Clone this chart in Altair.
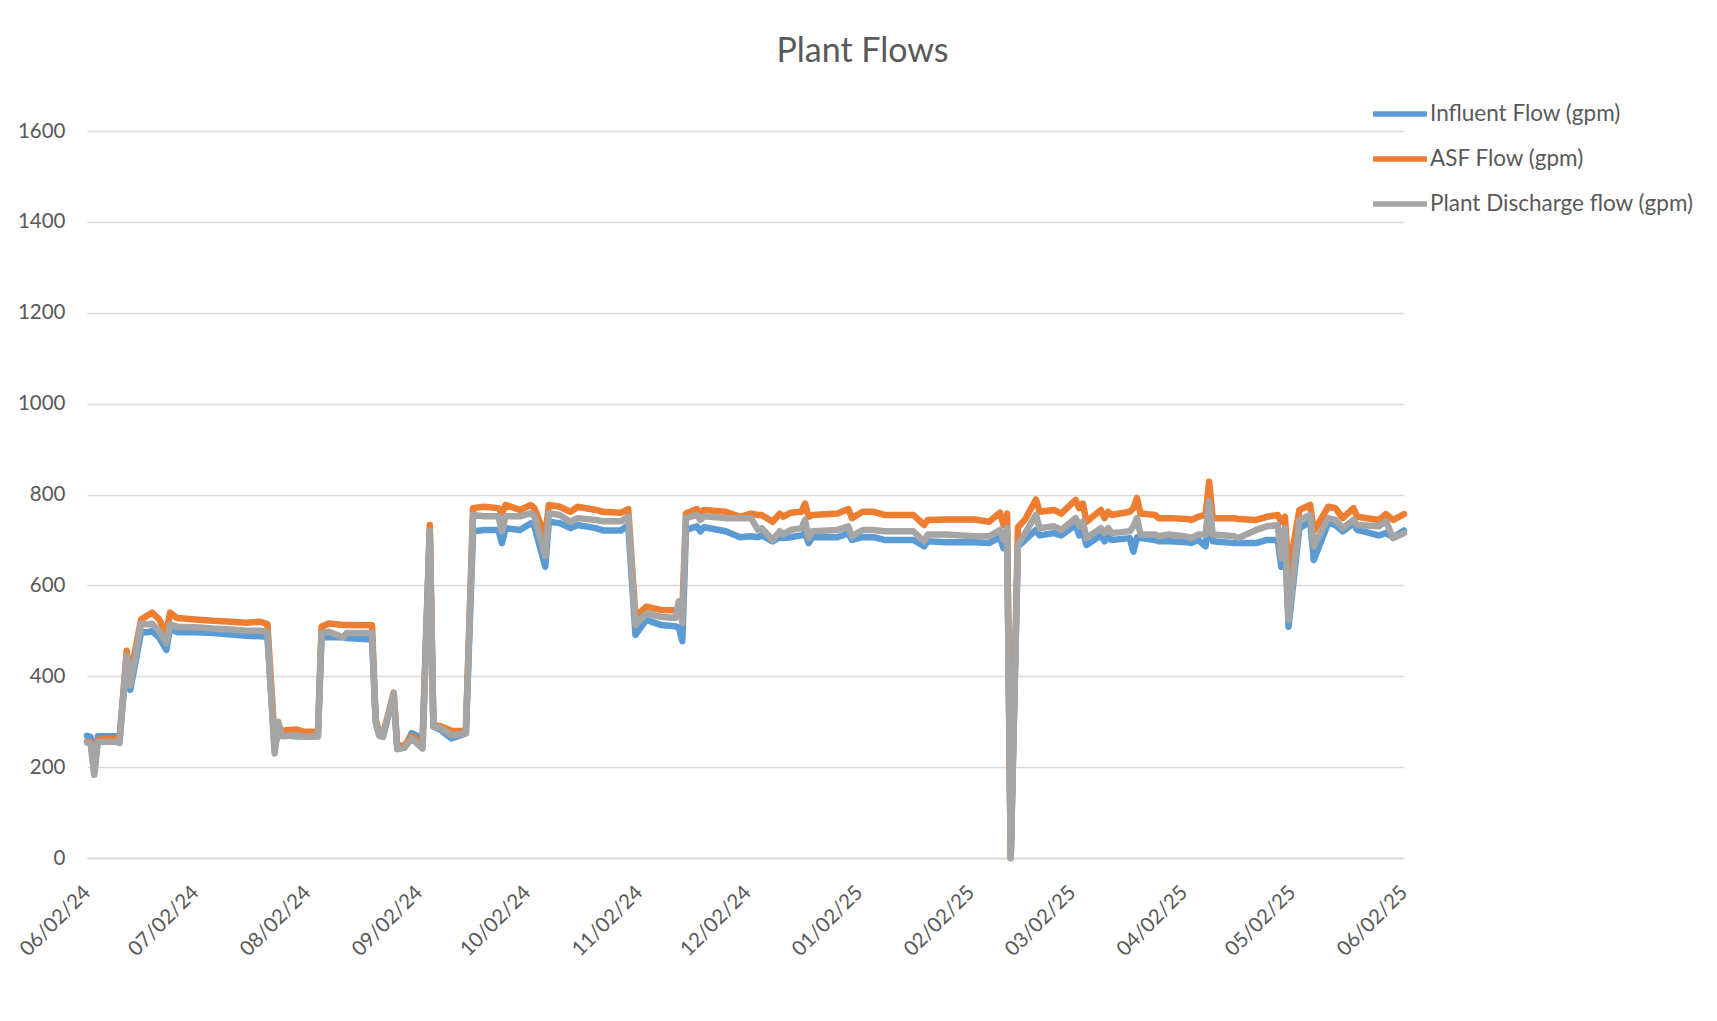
import altair as alt
import pandas as pd

# ---------------- data ----------------
start_date = "2024-06-02"
day_offsets = [0, 1, 2, 3, 5, 8, 9, 11, 12, 15, 17, 18, 20, 22, 23, 25, 30, 35, 40, 44,
               48, 50, 52, 53, 54, 58, 60, 64, 65, 67, 71, 72, 79, 80, 81, 82, 85, 86, 88, 90,
               93, 95, 96, 98, 101, 105, 107, 110, 114, 115, 116, 120, 123, 124, 127, 128, 131, 134, 136, 141,
               143, 148, 150, 152, 155, 159, 163, 164, 165, 166, 169, 170, 171, 177, 181, 184, 186, 187, 190, 192,
               193, 195, 198, 199, 200, 201, 208, 211, 212, 215, 218, 221, 229, 232, 233, 238, 246, 250, 253, 254,
               255, 256, 258, 260, 263, 264, 268, 270, 274, 275, 276, 277, 281, 282, 283, 284, 289, 290, 291, 292,
               296, 297, 300, 305, 306, 308, 310, 311, 312, 318, 319, 324, 327, 330, 331, 332, 333, 336, 339, 340,
               344, 346, 348, 351, 352, 358, 360, 362, 365]

influent = [269, 266, 190, 268, 268, 268, 262, 440, 370, 497, 497, 500, 485, 458, 505, 497, 497, 495, 492, 489,
            488, 487, 240, 280, 270, 268, 268, 268, 486, 486, 486, 484, 481, 300, 270, 267, 358, 240, 243, 275,
            263, 715, 289, 282, 263, 274, 719, 722, 722, 693, 726, 722, 737, 730, 641, 740, 737, 726, 733, 726,
            721, 721, 733, 491, 524, 513, 510, 507, 477, 722, 730, 719, 728, 719, 706, 708, 706, 710, 697, 706,
            704, 706, 710, 715, 693, 706, 706, 715, 700, 706, 706, 700, 700, 686, 697, 695, 695, 693, 706, 682,
            715, 0, 686, 700, 722, 710, 715, 710, 733, 710, 720, 689, 710, 697, 706, 700, 704, 674, 706, 704,
            700, 697, 697, 695, 693, 700, 686, 760, 697, 693, 693, 693, 700, 700, 641, 700, 509, 726, 740, 656,
            737, 733, 719, 737, 722, 710, 715, 706, 721]

asf = [256, 255, 200, 260, 262, 262, 258, 456, 400, 525, 535, 540, 525, 495, 540, 528, 525, 522, 520, 518,
       520, 515, 260, 290, 280, 283, 278, 278, 509, 516, 513, 513, 512, 305, 275, 270, 364, 245, 248, 268,
       249, 733, 292, 290, 280, 279, 770, 773, 770, 759, 777, 766, 777, 770, 708, 777, 773, 762, 773, 766,
       762, 760, 768, 531, 553, 546, 545, 545, 545, 758, 768, 760, 766, 762, 751, 758, 755, 755, 740, 758,
       751, 760, 762, 780, 751, 755, 758, 768, 748, 762, 762, 755, 755, 733, 744, 745, 745, 740, 760, 733,
       758, 0, 728, 745, 789, 762, 766, 758, 788, 770, 780, 740, 766, 748, 762, 755, 762, 770, 792, 758,
       755, 748, 748, 746, 744, 751, 755, 828, 748, 748, 746, 744, 751, 755, 740, 751, 627, 766, 777, 719,
       773, 770, 748, 770, 751, 744, 757, 744, 757]

discharge = [254, 252, 183, 255, 256, 256, 253, 445, 380, 516, 514, 516, 500, 473, 514, 509, 508, 505, 503, 500,
             500, 497, 230, 300, 268, 270, 267, 268, 495, 498, 486, 495, 495, 300, 269, 267, 362, 240, 243, 263,
             241, 719, 289, 286, 270, 274, 755, 752, 752, 719, 752, 752, 759, 752, 664, 759, 755, 740, 748, 744,
             741, 741, 752, 513, 538, 531, 528, 565, 517, 748, 755, 744, 752, 748, 748, 748, 722, 726, 700, 719,
             712, 722, 726, 744, 704, 719, 722, 730, 708, 722, 722, 719, 719, 697, 712, 712, 708, 708, 722, 700,
             726, 0, 690, 715, 755, 726, 730, 722, 748, 730, 741, 704, 726, 715, 726, 715, 719, 730, 748, 712,
             712, 708, 712, 707, 704, 712, 712, 785, 712, 708, 704, 722, 730, 733, 660, 726, 524, 744, 755, 686,
             748, 744, 726, 744, 733, 730, 741, 704, 715]

series_names = ["Influent Flow (gpm)", "ASF Flow (gpm)", "Plant Discharge flow (gpm)"]
series_colors = ["#5B9BD5", "#ED7D31", "#A5A5A5"]
tick_dates = ["2024-06-02", "2024-07-02", "2024-08-02", "2024-09-02", "2024-10-02", "2024-11-02",
              "2024-12-02", "2025-01-02", "2025-02-02", "2025-03-02", "2025-04-02", "2025-05-02",
              "2025-06-02"]
y_ticks = [0, 200, 400, 600, 800, 1000, 1200, 1400, 1600]

# ---------------- build table ----------------
base = pd.Timestamp(start_date)
date_strs = [(base + pd.Timedelta(days=d)).strftime("%Y-%m-%dT00:00:00") for d in day_offsets]
rows = []
for name, vals in zip(series_names, [influent, asf, discharge]):
    for ds, v in zip(date_strs, vals):
        rows.append({"date": ds, "series": name, "flow": v})
df = pd.DataFrame(rows)


def to_dt(s):
    t = pd.Timestamp(s)
    return alt.DateTime(year=t.year, month=t.month, date=t.day)


tick_values = [to_dt(s) for s in tick_dates]
x_domain = [to_dt(tick_dates[0]), to_dt(tick_dates[-1])]

TEXT = "#595959"
GRID = "#D9D9D9"
FONT = "Lato"

x_enc = alt.X(
    "date:T",
    scale=alt.Scale(domain=x_domain, nice=False),
    axis=alt.Axis(
        values=tick_values, format="%m/%d/%y", labelAngle=-45, labelAlign="right",
        labelBaseline="middle", labelPadding=31, ticks=False, grid=False,
        domainColor=GRID, domainWidth=1.5, labelFontSize=20.5, labelColor=TEXT,
        labelFont=FONT, title=None, labelFlush=False, labelOverlap=False,
    ),
)
y_enc = alt.Y(
    "flow:Q",
    scale=alt.Scale(domain=[0, 1600], nice=False),
    axis=alt.Axis(
        values=y_ticks, format="d", ticks=False, domain=False, gridColor=GRID, gridWidth=1.5,
        labelFontSize=20.5, labelColor=TEXT, labelFont=FONT, labelPadding=22, title=None,
    ),
)
color_enc = alt.Color(
    "series:N",
    scale=alt.Scale(domain=series_names, range=series_colors),
    legend=alt.Legend(
        title=None, orient="none", legendX=1283, legendY=-47, symbolType="stroke",
        symbolSize=2900, symbolStrokeWidth=5.5, labelFontSize=22.5, labelColor=TEXT,
        labelFont=FONT, rowPadding=3, labelOffset=0, labelLimit=500,
    ),
)

layers = []
for name in series_names:
    layers.append(
        alt.Chart(df)
        .transform_filter(alt.datum.series == name)
        .mark_line(strokeWidth=6.5, strokeJoin="round", strokeCap="round")
        .encode(x=x_enc, y=y_enc, color=color_enc)
    )

chart = (
    alt.layer(*layers)
    .properties(
        width=1317,
        height=727,
        padding={"left": 79, "top": 123, "right": 300, "bottom": 120},
        autosize="none",
        title=alt.TitleParams(
            "Plant Flows", fontSize=34, font=FONT, color=TEXT, fontWeight="normal",
            anchor="middle", frame="group", dx=117, offset=15,
        ),
    )
    .configure(background="white")
    .configure_view(stroke=None)
)

chart.save("out.html", embed_options={"renderer": "svg", "actions": False})
